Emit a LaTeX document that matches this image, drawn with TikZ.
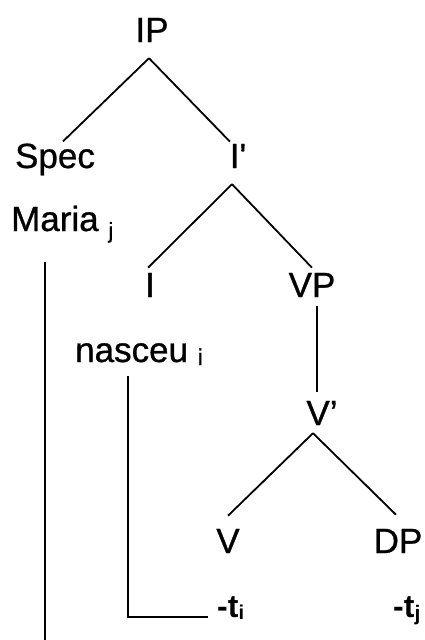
\documentclass[tikz,border=0pt]{standalone}
\usepackage{fontspec}
\setmainfont{Liberation Sans}
\newfontfamily\treefont{Liberation Sans}[FakeBold=0.8]
\usetikzlibrary{positioning}
% small lowered index letter
\newcommand{\idx}[3][-5pt]{\raisebox{#1}{\fontsize{#2pt}{#2pt}\selectfont #3}}

\begin{document}
\begin{tikzpicture}[x=1pt,y=-1pt,
 cat/.style={inner sep=0pt,anchor=base,font=\treefont\fontsize{35}{40}\selectfont},
 word/.style={inner sep=0pt,anchor=base west,font=\treefont\fontsize{35}{40}\selectfont},
 trace/.style={inner sep=0pt,anchor=base west,font=\fontsize{32}{36}\selectfont\bfseries},
 branch/.style={line width=1.8pt,black},
 chain/.style={line width=1.4pt,black}]
\useasboundingbox (0,0) rectangle (425,640);

% categories
\node[cat] (ip) at (152,42) {IP};
\node[cat] (spec) at (55,168) {Spec};
\node[cat] (ibar) at (238,168) {I\textquotesingle};
\node[word] (maria) at (11,231) {Maria \idx[-7pt]{22}{j}};
\node[cat] (i) at (150,297) {I};
\node[cat] (vp) at (312,297) {VP};
\node[word] (nasceu) at (75,362) {nasceu \idx[-3pt]{23}{i}};
\node[cat] (vbar) at (322,425) {V’};
\node[cat] (v) at (228,553) {V};
\node[cat] (dp) at (398,553) {DP};
\node[trace] (ti) at (217,617) {-t\idx[-2pt]{20}{i}};
\node[trace] (tj) at (393,617) {-t\idx[-3pt]{21}{j}};

% branches
\draw[branch] ([xshift=-3pt,yshift=-16pt]ip.south) -- ([xshift=8pt,yshift=2pt]spec.north);
\draw[branch] ([xshift=-3pt,yshift=-16pt]ip.south) -- ([xshift=-8pt,yshift=2pt]ibar.north);
\draw[branch] ([xshift=-6pt,yshift=-16pt]ibar.south) -- ([xshift=-2pt,yshift=5pt]i.north);
\draw[branch] ([xshift=-6pt,yshift=-16pt]ibar.south) -- ([yshift=5pt]vp.north);
\draw[branch] ([xshift=5pt,yshift=-9pt]vp.south) -- ([xshift=-5pt,yshift=9pt]vbar.north);
\draw[branch] ([xshift=-9pt,yshift=-8pt]vbar.south) -- ([yshift=13pt]v.north);
\draw[branch] ([xshift=-9pt,yshift=-8pt]vbar.south) -- ([xshift=-2pt,yshift=14pt]dp.north);

% movement lines
\coordinate (jfoot) at (45,640);
\draw[chain] ([xshift=34pt,yshift=-31pt]maria.base west) -- (jfoot);
\draw[chain] ([xshift=53pt,yshift=-14pt]nasceu.base west) |- ([xshift=-9pt]ti.base west);
\end{tikzpicture}
\end{document}
